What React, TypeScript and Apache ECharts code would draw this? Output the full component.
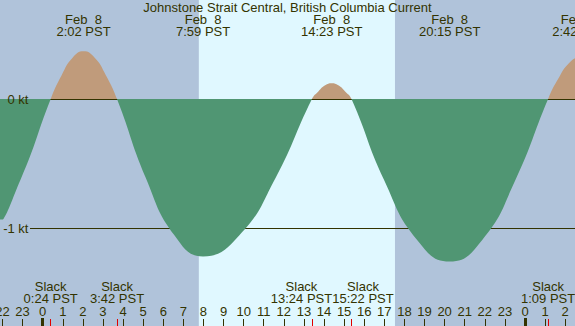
import React, { useEffect, useRef } from 'react';
import * as echarts from 'echarts';

// ---------- data (hours relative to Feb 8 00:00 PST) ----------
const TITLE = 'Johnstone Strait Central, British Columbia Current';
const DATE_LABEL = 'Feb  8';
const TZ = 'PST';

const hourTicks = [-2, -1, 0, 1, 2, 3, 4, 5, 6, 7, 8, 9, 10, 11, 12, 13, 14, 15, 16, 17, 18, 19, 20, 21, 22, 23, 24, 25, 26];
const midnightTicks = [0, 24];

// slack water (0 kt)
const slackTimes = [0.4, 3.7, 13.4, 15.3667, 25.15];
const slackLabels = ['0:24', '3:42', '13:24', '15:22', '1:09'];

// max flood / max ebb
const maxTimes = [2.0333, 7.9833, 14.3833, 20.25, 26.7];
const maxLabels = ['2:02', '7:59', '14:23', '20:15', '2:42'];
const maxValues = [0.37, -1.22, 0.122, -1.26, 0.32];

// further readings of the current between slacks and maxima (time, kt)
const readTimes = [
  -2.573, -1.087, 0.944, 1.489, 2.589, 3.144, 5.128, 6.555, 9.789, 11.594,
  13.728, 14.055, 14.711, 15.039, 16.994, 18.622, 21.883, 23.517, 25.667, 26.183, 27.233, 27.767,
];
const readValues = [
  -1.074, -0.62, 0.185, 0.32, 0.32, 0.185, -0.61, -1.057, -1.057, -0.61,
  0.061, 0.106, 0.106, 0.061, -0.63, -1.091, -1.091, -0.63, 0.16, 0.277, 0.277, 0.16,
];

// neighbours just outside the visible window (estimated)
const outsideTimes = [-8.9, -4.06, 28.3];
const outsideValues = [0, -1.24, 0];

const sunrise = 7.77;
const sunset = 17.53;

const ktTicks = [0, -1];

// ---------- layout ----------
const W = 575;
const H = 326;
const X_MIN = -2.123;
const X_MAX = 26.488;
const PX_PER_H = W / (X_MAX - X_MIN);
const Y_MAX = 99 / 129;
const Y_MIN = -(H - 99) / 129;
const slackLabelShift = [0, 0, -10.5, 11.5, 0];

const NIGHT = '#b0c3da';
const DAY = '#e0f8ff';
const FLOOD = '#c09b7b';
const EBB = '#509673';
const DARK = '#333300';
const RED = '#e00000';
const FONT = '"Liberation Sans", Arial, Helvetica, sans-serif';
const FS = 13;

const pairs = (ts: number[], vs: number[]) => ts.map((t, i) => [t, vs[i]] as [number, number]);
const curve: [number, number][] = [
  ...slackTimes.map((t) => [t, 0] as [number, number]),
  ...pairs(maxTimes, maxValues),
  ...pairs(readTimes, readValues),
  ...pairs(outsideTimes, outsideValues),
].sort((a, b) => a[0] - b[0]);

const findIdx = (arr: number[], v: number) => arr.findIndex((t) => Math.abs(t - v) < 1e-6);

const txt = { color: DARK, fontSize: FS, fontFamily: FONT };

function padFor(shift: number) {
  return shift < 0 ? [0, -2 * shift, 0, 0] : [0, 0, 0, 2 * shift];
}

const slackRich: Record<string, any> = {};
slackLabelShift.forEach((s, i) => {
  slackRich['s' + i] = { ...txt, lineHeight: 12.3, padding: padFor(s) };
});

const topValues = maxTimes.map((t) => Math.min(t, X_MAX));
const topRich: Record<string, any> = {};
maxTimes.forEach((t, i) => {
  const s = t > X_MAX ? (t - X_MAX) * PX_PER_H : 0;
  topRich['t' + i] = { ...txt, lineHeight: 12.4, padding: padFor(s) };
});

const baseX = {
  type: 'value',
  min: X_MIN,
  max: X_MAX,
  axisLine: { show: false, onZero: false },
  splitLine: { show: false },
  z: 10,
};

const option: any = {
  animation: false,
  backgroundColor: NIGHT,
  title: {
    text: TITLE,
    left: 'center',
    top: 1.2,
    padding: 0,
    textStyle: { ...txt, fontWeight: 'normal', lineHeight: 13 },
  },
  grid: { left: 0, right: 0, top: 0, bottom: 0, containLabel: false, outerBoundsMode: 'none' },
  xAxis: [
    {
      ...baseX,
      position: 'bottom',
      axisTick: { show: true, inside: true, length: 7, customValues: hourTicks, lineStyle: { color: DARK, width: 1 } },
      axisLabel: {
        show: true,
        inside: true,
        margin: 8.5,
        customValues: hourTicks,
        ...txt,
        lineHeight: 12,
        formatter: (v: number) => String(((Math.round(v) % 24) + 24) % 24),
      },
    },
    {
      ...baseX,
      position: 'bottom',
      axisTick: { show: true, inside: true, length: 8, customValues: midnightTicks, lineStyle: { color: DARK, width: 3 } },
      axisLabel: { show: false },
    },
    {
      ...baseX,
      position: 'bottom',
      axisTick: { show: true, inside: true, length: 7, customValues: slackTimes, lineStyle: { color: RED, width: 1 } },
      axisLabel: {
        show: true,
        inside: true,
        margin: 21,
        customValues: slackTimes,
        ...txt,
        rich: slackRich,
        formatter: (v: number) => {
          const i = findIdx(slackTimes, v);
          if (i < 0) return '';
          return `{s${i}|Slack}\n{s${i}|${slackLabels[i]} ${TZ}}`;
        },
      },
    },
    {
      ...baseX,
      position: 'top',
      axisTick: { show: false },
      axisLabel: {
        show: true,
        inside: true,
        margin: 13.3,
        customValues: topValues,
        ...txt,
        rich: topRich,
        formatter: (v: number) => {
          const i = findIdx(topValues, v);
          if (i < 0) return '';
          return `{t${i}|${DATE_LABEL}}\n{t${i}|${maxLabels[i]} ${TZ}}`;
        },
      },
    },
  ],
  yAxis: [
    {
      type: 'value',
      position: 'left',
      min: Y_MIN,
      max: Y_MAX,
      axisLine: { show: false, onZero: false },
      axisTick: { show: false, customValues: ktTicks },
      axisLabel: { show: false },
      splitLine: { show: true, lineStyle: { color: DARK, width: 1 } },
      z: 1,
    },
    {
      type: 'value',
      position: 'left',
      min: Y_MIN,
      max: Y_MAX,
      axisLine: { show: false, onZero: false },
      axisTick: { show: false },
      splitLine: { show: false },
      axisLabel: {
        show: true,
        inside: true,
        align: 'right',
        margin: 30,
        customValues: ktTicks,
        ...txt,
        rich: {
          k: { ...txt, padding: [0, 1.5, 0, 0] },
          m: { ...txt, padding: [2, 1.5, 2, 6], backgroundColor: NIGHT },
        },
        formatter: (v: number) => (v === 0 ? `{k|${v} kt}` : `{m|${v} kt}`),
      },
      z: 10,
    },
  ],
  visualMap: {
    type: 'piecewise',
    show: false,
    seriesIndex: 1,
    dimension: 1,
    pieces: [
      { gt: 0, lte: 5, color: FLOOD },
      { gt: -5, lte: 0, color: EBB },
    ],
    outOfRange: { color: EBB },
  },
  series: [
    {
      type: 'line',
      data: [],
      silent: true,
      markArea: {
        silent: true,
        z: 0,
        itemStyle: { color: DAY, borderWidth: 0 },
        label: { show: false },
        data: [[{ xAxis: sunrise }, { xAxis: sunset }]],
      },
    },
    {
      type: 'line',
      data: curve,
      smooth: 0.5,
      symbol: 'none',
      showSymbol: false,
      silent: true,
      lineStyle: { width: 0 },
      areaStyle: { opacity: 1 },
      z: 2,
    },
  ],
};

export default function App() {
  const ref = useRef<HTMLDivElement>(null);
  useEffect(() => {
    document.body.style.margin = '0';
    const chart = echarts.init(ref.current!, undefined, { renderer: 'svg' });
    chart.setOption(option);
    return () => chart.dispose();
  }, []);
  return <div ref={ref} style={{ width: W, height: H }} />;
}
